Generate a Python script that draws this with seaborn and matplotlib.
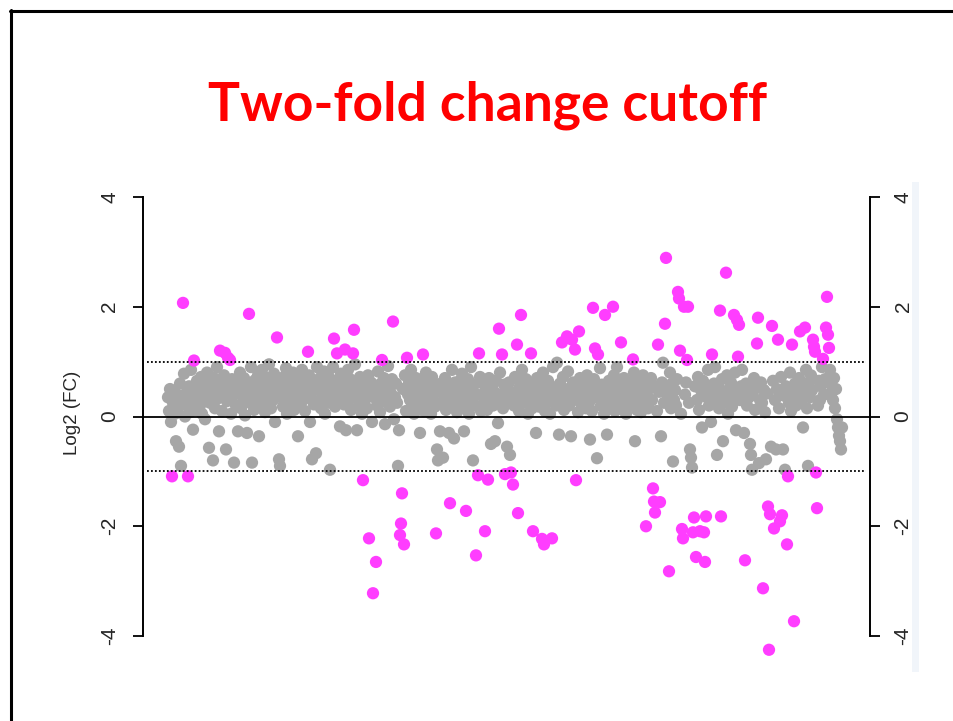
import numpy as np
import pandas as pd
import matplotlib
matplotlib.use("Agg")
import matplotlib.pyplot as plt
import seaborn as sns
from matplotlib.lines import Line2D
from matplotlib.patches import Rectangle

# ---------------- data ----------------
title = "Two-fold change cutoff"
y_label = "Log2 (FC)"
y_ticks = [-4, -2, 0, 2, 4]
cutoff = 1.0

# genes beyond the two-fold cutoff: position along the gene axis and log2 fold change
sig_idx = [4, 15, 20, 26, 52, 57, 60, 62, 81, 109, 140, 166, 169, 177, 185, 186, 195, 201, 205, 208,
           214, 225, 232, 233, 234, 236, 239, 255, 268, 282, 298, 308, 310, 311, 317, 320, 331, 334, 337, 343,
           345, 349, 350, 353, 363, 365, 374, 376, 384, 394, 399, 404, 407, 408, 411, 425, 427, 430, 437, 445,
           453, 465, 478, 485, 486, 487, 490, 492, 497, 498, 501, 510, 511, 512, 514, 515, 516, 519, 520, 525,
           526, 528, 532, 536, 537, 538, 544, 552, 553, 558, 566, 569, 570, 571, 577, 589, 590, 595, 600, 601,
           602, 604, 606, 610, 612, 614, 619, 620, 624, 626, 632, 637, 645, 646, 647, 648, 649, 655, 658, 659,
           660, 661]
sig_fc = [-1.09, 2.07, -1.09, 1.02, 1.2, 1.16, 1.07, 1.03, 1.87, 1.44, 1.18, 1.42, 1.15, 1.22, 1.15, 1.58, -1.16, -2.22, -3.22, -2.65,
          1.03, 1.73, -2.16, -1.95, -1.4, -2.33, 1.07, 1.13, -2.13, -1.58, -1.72, -2.53, -1.07, 1.15, -2.09, -1.15, 1.6, 1.13, -1.05, -1.02,
          -1.24, 1.31, -1.76, 1.85, 1.15, -2.09, -2.23, -2.33, -2.22, 1.35, 1.46, 1.4, 1.22, -1.16, 1.55, 1.98, 1.24, 1.13, 1.85, 2.0,
          1.35, 1.04, -2.0, -1.31, -1.55, -1.75, 1.31, -1.56, 1.69, 2.89, -2.82, 2.27, 2.15, 1.2, -2.05, -2.22, 2.0, 1.03, 2.0, -2.11,
          -1.84, -2.56, -2.09, -2.11, -2.65, -1.82, 1.13, 1.93, -1.82, 2.62, 1.85, 1.76, 1.09, 1.67, -2.62, 1.33, 1.8, -3.13, -1.64, -4.25,
          -1.78, 1.65, -2.04, 1.4, -1.91, -1.8, -2.33, -1.09, 1.31, -3.73, 1.55, 1.62, 1.4, 1.27, 1.18, -1.02, -1.67, 1.05, 1.62, 2.18,
          1.49, 1.25]

# all other genes, in gene order
bg_fc = [
    0.35, 0.1, 0.5, -0.1, 0.25, 0.45, 0.05, -0.45, 0.4, 0.15, -0.55, 0.6, -0.9, 0.3, 0.78, 0.0, 0.42, 0.2, 0.55, 0.08,
    0.85, 0.3, -0.24, 0.5, 0.12, 0.65, 0.38, 0.55, 0.2, 0.72, 0.05, 0.45, 0.62, -0.05, 0.3, 0.8, 0.48, -0.57, 0.25, 0.6,
    0.4, -0.8, 0.7, 0.15, 0.52, 0.9, 0.33, -0.27, 0.6, 0.1, 0.45, 0.75, -0.6, 0.28, 0.55, 0.05, 0.68, 0.38, -0.84, 0.5,
    0.2, 0.62, -0.27, 0.44, 0.8, 0.15, 0.55, 0.35, 0.7, 0.02, 0.48, -0.3, 0.6, 0.25, 0.9, -0.84, 0.4, 0.12, 0.66, 0.3,
    0.55, 0.75, -0.36, 0.2, 0.45, 0.85, 0.32, 0.6, 0.08, 0.5, 0.7, 0.22, 0.95, 0.4, 0.15, 0.58, 0.3, 0.78, -0.1, 0.45,
    0.62, -0.78, -0.9, 0.35, 0.5, 0.18, 0.72, 0.42, 0.88, 0.05, 0.55, 0.3, 0.65, 0.25, 0.48, 0.8, 0.12, 0.6, 0.38, 0.7,
    -0.36, 0.45, 0.2, 0.58, 0.85, 0.3, 0.68, 0.1, 0.5, 0.35, 0.75, -0.1, 0.42, -0.78, 0.62, 0.22, 0.55, -0.67, 0.9, 0.28,
    0.48, 0.7, 0.15, 0.58, 0.35, 0.82, 0.05, 0.45, 0.6, 0.25, 0.72, -0.97, 0.38, 0.55, 0.9, 0.18, 0.65, 0.3, 0.5, -0.18,
    0.78, 0.4, 0.6, 0.22, -0.25, 0.52, 0.85, 0.3, 0.68, 0.12, 0.45, 0.95, 0.35, -0.25, 0.58, 0.2, 0.72, 0.42, 0.05, 0.62,
    0.3, 0.5, 0.15, 0.75, 0.4, 0.62, -0.1, 0.35, 0.55, 0.2, 0.82, 0.45, 0.08, 0.6, 0.28, 0.7, -0.14, 0.48, 0.38, 0.92,
    0.55, 0.18, 0.42, 0.68, -0.05, 0.35, 0.6, 0.25, -0.9, -0.25, 0.5, 0.75, 0.1, 0.4, 0.62, 0.3, 0.85, 0.2, 0.52, 0.05,
    0.45, 0.7, 0.15, 0.58, 0.32, -0.3, 0.65, 0.4, 0.1, 0.55, 0.8, 0.22, 0.48, 0.35, 0.62, 0.05, 0.72, 0.3, 0.5, 0.18,
    -0.6, -0.8, 0.45, -0.27, 0.6, 0.25, -0.75, 0.4, 0.7, 0.12, 0.55, 0.32, -0.3, 0.48, 0.85, 0.2, -0.4, 0.62, 0.38, 0.08,
    0.5, 0.3, 0.65, 0.15, 0.78, 0.42, -0.27, 0.55, 0.25, 0.68, 0.05, 0.45, 0.9, 0.35, -0.8, 0.58, 0.2, 0.4, 0.72, 0.1,
    0.38, 0.6, 0.25, 0.5, 0.12, 0.7, 0.35, -0.5, 0.55, 0.2, 0.45, -0.45, 0.65, 0.3, -0.12, 0.8, 0.4, 0.15, 0.58, 0.28,
    -0.55, 0.48, 0.62, -0.7, 0.35, 0.2, 0.72, 0.45, 0.1, 0.55, 0.85, 0.3, 0.5, 0.25, 0.68, 0.4, 0.05, 0.6, 0.38, 0.15,
    0.52, 0.3, -0.3, 0.7, 0.42, 0.18, 0.6, 0.35, 0.8, 0.1, 0.48, 0.25, 0.65, 0.38, 0.05, 0.55, 0.9, 0.28, 0.45, 0.2,
    0.98, 0.4, -0.33, 0.6, 0.25, 0.72, 0.12, 0.5, 0.35, 0.82, 0.2, 0.45, -0.36, 0.62, 0.3, 0.55, 0.08, 0.7, 0.4, 0.18,
    0.6, 0.32, 0.5, 0.15, 0.75, 0.4, 0.25, -0.42, 0.55, 0.1, 0.68, 0.35, -0.76, 0.45, 0.88, 0.2, 0.58, 0.3, 0.05, 0.5,
    -0.33, 0.42, 0.65, 0.2, 0.55, 0.3, 0.75, 0.1, 0.48, 0.9, 0.35, 0.6, 0.15, 0.5, 0.25, 0.7, 0.4, 0.05, 0.58, 0.3,
    0.45, 0.2, 0.62, 0.35, 0.8, -0.45, 0.5, 0.12, 0.68, 0.3, 0.55, 0.08, 0.4, 0.75, 0.22, 0.6, 0.35, 0.15, 0.5, 0.28,
    0.7, 0.3, 0.55, 0.1, 0.45, -0.36, 0.62, 0.98, 0.25, 0.5, 0.38, 0.8, 0.15, 0.6, -0.82, 0.3, 0.48, 0.2, 0.68, 0.05,
    0.4, 0.62, 0.25, -0.6, -0.75, -0.93, 0.55, 0.3, 0.72, 0.12, 0.48, -0.2, 0.65, 0.35, 0.85, 0.2, 0.5, -0.1, 0.42, 0.6,
    0.9, 0.3, -0.7, 0.55, 0.15, 0.68, -0.45, 0.4, 0.25, 0.75, 0.05, 0.5, 0.35, 0.62, 0.18, 0.45, 0.8, -0.25, 0.3, 0.55,
    0.85, 0.4, -0.3, 0.6, 0.2, 0.5, 0.35, -0.5, -0.7, -0.97, 0.45, 0.7, 0.12, 0.55, -0.85, 0.3, 0.62, 0.25, 0.48, 0.08,
    -0.78, 0.42, -0.55, 0.65, 0.3, -0.6, 0.5, 0.15, 0.72, -0.6, 0.38, -0.97, 0.55, 0.25, 0.8, 0.1, 0.45, 0.6, 0.2, 0.35,
    0.5, 0.7, 0.28, 0.58, -0.2, 0.42, 0.85, 0.15, -0.9, 0.62, 0.35, 0.75, 0.48, 0.2, 0.65, 0.3, 0.55, 0.9, 0.4, 0.68,
    0.85, 0.6, 0.45, 0.3, 0.7, 0.15, 0.5, -0.05, -0.2, -0.35, -0.45, -0.6, -0.2,
]

# ---------------- build table ----------------
n_genes = len(sig_idx) + len(bg_fc)
log2fc = np.empty(n_genes)
is_sig = np.zeros(n_genes, dtype=bool)
is_sig[sig_idx] = True
log2fc[np.array(sig_idx)] = sig_fc
log2fc[~is_sig] = bg_fc
df = pd.DataFrame({
    "gene": np.arange(n_genes),
    "log2fc": log2fc,
    "status": np.where(np.abs(log2fc) > cutoff, "changed", "unchanged"),
})
df = df.sort_values("status", ascending=False, kind="stable")  # unchanged drawn first

# ---------------- figure ----------------
sns.set_style("white")
plt.rcParams["font.family"] = ["Liberation Sans", "DejaVu Sans"]

W, H = 954, 721
fig = plt.figure(figsize=(W / 100, H / 100), dpi=100)
fig.patch.set_facecolor("white")

def fx(px):
    return px / W

def fy(py):
    return 1 - py / H

ax_left, ax_right = 143, 870
ax_top, ax_bottom = 175, 658
ax = fig.add_axes([fx(ax_left), fy(ax_bottom), (ax_right - ax_left) / W, (ax_bottom - ax_top) / H])
ax.set_facecolor("none")

sns.scatterplot(data=df, x="gene", y="log2fc", hue="status",
                palette={"unchanged": "#a6a6a6", "changed": "#ff3dff"},
                s=78, linewidth=0, alpha=1, legend=False, ax=ax, zorder=2)

ax.set_xlim(-25, 702)
ax.set_ylim(-4.4, 4.4)
ax.axhline(0, color="black", lw=1.3, zorder=3)
for yv in (cutoff, -cutoff):
    ax.axhline(yv, xmin=0.005, xmax=0.995, color="black", lw=1.3,
               linestyle=(0, (1, 1.2)), zorder=3)

ax.set_xticks([])
ax.set_xlabel("")
ax.set_ylabel("")
ax.set_yticks(y_ticks)
ax.set_yticklabels([str(t) for t in y_ticks])
for side in ("top", "bottom"):
    ax.spines[side].set_visible(False)
for side in ("left", "right"):
    ax.spines[side].set_visible(True)
    ax.spines[side].set_bounds(-4, 4)
    ax.spines[side].set_linewidth(1.4)
    ax.spines[side].set_color("black")
ax.tick_params(axis="y", which="both", left=True, right=True, labelleft=True, labelright=True,
               direction="out", length=7.5, width=1.3, color="black", labelsize=15)
ax.yaxis.set_tick_params(pad=9.5)
for t in ax.yaxis.get_major_ticks():
    t.label1.set_rotation(90)
    t.label1.set_va("center")
    t.label1.set_ha("right")
    t.label2.set_rotation(90)
    t.label2.set_va("center")
    t.label2.set_ha("left")

fig.text(fx(73), fy(413), y_label, rotation=90, ha="center", va="center", fontsize=13.5)

# title
t = fig.text(fx(487.5), fy(120), title, color="#ff0000", fontweight="bold",
             fontsize=40, ha="center", va="baseline", family=["Lato", "DejaVu Sans"])
fig.canvas.draw()
bb = t.get_window_extent()
t.set_fontsize(40 * 559 / bb.width)

# slide frame and light strip
fig.add_artist(Line2D([fx(11.5), fx(11.5)], [fy(10), fy(H + 5)], color="black", lw=2.2,
                      transform=fig.transFigure))
fig.add_artist(Line2D([fx(10.5), fx(W + 5)], [fy(10.5), fy(10.5)], color="black", lw=2.2,
                      transform=fig.transFigure))
fig.add_artist(Rectangle((fx(912), fy(672)), 7 / W, (672 - 182) / H, transform=fig.transFigure,
                         facecolor="#f1f5fa", edgecolor="none", zorder=0))

fig.savefig("out.png", dpi=100)
